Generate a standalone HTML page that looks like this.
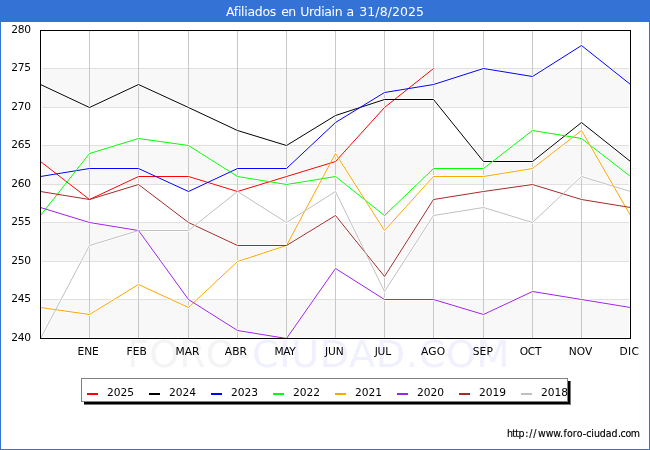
<!DOCTYPE html>
<html lang="es"><head><meta charset="utf-8"><title>Afiliados en Urdiain a 31/8/2025</title>
<style>html,body{margin:0;padding:0;background:#fff;overflow:hidden}svg text{white-space:pre}</style></head>
<body>
<svg width="650" height="450" viewBox="0 0 650 450" style="display:block">
<rect x="0" y="0" width="650" height="450" fill="#ffffff"/>
<rect x="0" y="0" width="650" height="22" fill="#3572d6"/>
<rect x="0" y="0" width="1" height="450" fill="#3572d6"/>
<rect x="649" y="0" width="1" height="450" fill="#3572d6"/>
<rect x="0" y="449" width="650" height="1" fill="#3572d6"/>
<text x="127.2" y="367" font-family="'DejaVu Sans','Liberation Sans',sans-serif" font-size="38" fill="#f4f4f4" textLength="123.2" lengthAdjust="spacing">FORO-</text>
<text x="251.9" y="367" font-family="'DejaVu Sans','Liberation Sans',sans-serif" font-size="38" fill="#f0f0ff" textLength="257.5" lengthAdjust="spacing">CIUDAD.COM</text>
<rect x="42" y="68" width="587" height="39" fill="#f8f8f8"/>
<rect x="42" y="145" width="587" height="39" fill="#f8f8f8"/>
<rect x="42" y="222" width="587" height="39" fill="#f8f8f8"/>
<rect x="42" y="299" width="587" height="38" fill="#f8f8f8"/>
<rect x="42" y="68" width="587" height="1" fill="#e0e0e0"/>
<rect x="42" y="107" width="587" height="1" fill="#e0e0e0"/>
<rect x="42" y="145" width="587" height="1" fill="#e0e0e0"/>
<rect x="42" y="184" width="587" height="1" fill="#e0e0e0"/>
<rect x="42" y="222" width="587" height="1" fill="#e0e0e0"/>
<rect x="42" y="261" width="587" height="1" fill="#e0e0e0"/>
<rect x="42" y="299" width="587" height="1" fill="#e0e0e0"/>
<rect x="89" y="31" width="1" height="307" fill="#c8c8c8"/>
<rect x="138" y="31" width="1" height="307" fill="#c8c8c8"/>
<rect x="188" y="31" width="1" height="307" fill="#c8c8c8"/>
<rect x="237" y="31" width="1" height="307" fill="#c8c8c8"/>
<rect x="286" y="31" width="1" height="307" fill="#c8c8c8"/>
<rect x="335" y="31" width="1" height="307" fill="#c8c8c8"/>
<rect x="384" y="31" width="1" height="307" fill="#c8c8c8"/>
<rect x="433" y="31" width="1" height="307" fill="#c8c8c8"/>
<rect x="483" y="31" width="1" height="307" fill="#c8c8c8"/>
<rect x="532" y="31" width="1" height="307" fill="#c8c8c8"/>
<rect x="581" y="31" width="1" height="307" fill="#c8c8c8"/>
<g fill="none" stroke="#fff" stroke-opacity="0.8" stroke-width="2.8" stroke-linejoin="round">
<polyline points="40.5,161.5 89.5,199.5 138.5,176.5 188.5,176.5 237.5,191.5 286.5,176.5 335.5,161.5 384.5,107.5 433.5,68.5"/>
<polyline points="40.5,84.5 89.5,107.5 138.5,84.5 188.5,107.5 237.5,130.5 286.5,145.5 335.5,115.5 384.5,99.5 433.5,99.5 483.5,161.5 532.5,161.5 581.5,122.5 630.5,161.5"/>
<polyline points="40.5,176.5 89.5,168.5 138.5,168.5 188.5,191.5 237.5,168.5 286.5,168.5 335.5,122.5 384.5,92.5 433.5,84.5 483.5,68.5 532.5,76.5 581.5,45.5 630.5,84.5"/>
<polyline points="40.5,215.5 89.5,153.5 138.5,138.5 188.5,145.5 237.5,176.5 286.5,184.5 335.5,176.5 384.5,215.5 433.5,168.5 483.5,168.5 532.5,130.5 581.5,138.5 630.5,176.5"/>
<polyline points="40.5,307.5 89.5,314.5 138.5,284.5 188.5,307.5 237.5,261.5 286.5,245.5 335.5,153.5 384.5,230.5 433.5,176.5 483.5,176.5 532.5,168.5 581.5,130.5 630.5,215.5"/>
<polyline points="40.5,207.5 89.5,222.5 138.5,230.5 188.5,299.5 237.5,330.5 286.5,338.5 335.5,268.5 384.5,299.5 433.5,299.5 483.5,314.5 532.5,291.5 581.5,299.5 630.5,307.5"/>
<polyline points="40.5,191.5 89.5,199.5 138.5,184.5 188.5,222.5 237.5,245.5 286.5,245.5 335.5,215.5 384.5,276.5 433.5,199.5 483.5,191.5 532.5,184.5 581.5,199.5 630.5,207.5"/>
<polyline points="40.5,338.5 89.5,245.5 138.5,230.5 188.5,230.5 237.5,191.5 286.5,222.5 335.5,191.5 384.5,291.5 433.5,215.5 483.5,207.5 532.5,222.5 581.5,176.5 630.5,191.5"/>
</g>
<g fill="none" stroke-width="1" stroke-linejoin="round">
<polyline points="40.5,161.5 89.5,199.5 138.5,176.5 188.5,176.5 237.5,191.5 286.5,176.5 335.5,161.5 384.5,107.5 433.5,68.5" stroke="#ff0000"/>
<polyline points="40.5,84.5 89.5,107.5 138.5,84.5 188.5,107.5 237.5,130.5 286.5,145.5 335.5,115.5 384.5,99.5 433.5,99.5 483.5,161.5 532.5,161.5 581.5,122.5 630.5,161.5" stroke="#000000"/>
<polyline points="40.5,176.5 89.5,168.5 138.5,168.5 188.5,191.5 237.5,168.5 286.5,168.5 335.5,122.5 384.5,92.5 433.5,84.5 483.5,68.5 532.5,76.5 581.5,45.5 630.5,84.5" stroke="#0000ff"/>
<polyline points="40.5,215.5 89.5,153.5 138.5,138.5 188.5,145.5 237.5,176.5 286.5,184.5 335.5,176.5 384.5,215.5 433.5,168.5 483.5,168.5 532.5,130.5 581.5,138.5 630.5,176.5" stroke="#00ff00"/>
<polyline points="40.5,307.5 89.5,314.5 138.5,284.5 188.5,307.5 237.5,261.5 286.5,245.5 335.5,153.5 384.5,230.5 433.5,176.5 483.5,176.5 532.5,168.5 581.5,130.5 630.5,215.5" stroke="#ffa500"/>
<polyline points="40.5,207.5 89.5,222.5 138.5,230.5 188.5,299.5 237.5,330.5 286.5,338.5 335.5,268.5 384.5,299.5 433.5,299.5 483.5,314.5 532.5,291.5 581.5,299.5 630.5,307.5" stroke="#a020f0"/>
<polyline points="40.5,191.5 89.5,199.5 138.5,184.5 188.5,222.5 237.5,245.5 286.5,245.5 335.5,215.5 384.5,276.5 433.5,199.5 483.5,191.5 532.5,184.5 581.5,199.5 630.5,207.5" stroke="#a52a2a"/>
<polyline points="40.5,338.5 89.5,245.5 138.5,230.5 188.5,230.5 237.5,191.5 286.5,222.5 335.5,191.5 384.5,291.5 433.5,215.5 483.5,207.5 532.5,222.5 581.5,176.5 630.5,191.5" stroke="#c0c0c0"/>
</g>
<rect x="40.5" y="30.5" width="590" height="308" fill="none" stroke="#000" stroke-width="1" shape-rendering="crispEdges"/>
<text x="11.25" y="33" font-family="'DejaVu Sans','Liberation Sans',sans-serif" font-size="10.67" fill="#000" letter-spacing="-0.23">280</text>
<text x="11.25" y="71" font-family="'DejaVu Sans','Liberation Sans',sans-serif" font-size="10.67" fill="#000" letter-spacing="-0.23">275</text>
<text x="11.25" y="110" font-family="'DejaVu Sans','Liberation Sans',sans-serif" font-size="10.67" fill="#000" letter-spacing="-0.23">270</text>
<text x="11.25" y="148" font-family="'DejaVu Sans','Liberation Sans',sans-serif" font-size="10.67" fill="#000" letter-spacing="-0.23">265</text>
<text x="11.25" y="187" font-family="'DejaVu Sans','Liberation Sans',sans-serif" font-size="10.67" fill="#000" letter-spacing="-0.23">260</text>
<text x="11.25" y="225" font-family="'DejaVu Sans','Liberation Sans',sans-serif" font-size="10.67" fill="#000" letter-spacing="-0.23">255</text>
<text x="11.25" y="264" font-family="'DejaVu Sans','Liberation Sans',sans-serif" font-size="10.67" fill="#000" letter-spacing="-0.23">250</text>
<text x="11.25" y="302" font-family="'DejaVu Sans','Liberation Sans',sans-serif" font-size="10.67" fill="#000" letter-spacing="-0.23">245</text>
<text x="11.25" y="341" font-family="'DejaVu Sans','Liberation Sans',sans-serif" font-size="10.67" fill="#000" letter-spacing="-0.23">240</text>
<text x="77.50" y="354.8" font-family="'DejaVu Sans','Liberation Sans',sans-serif" font-size="10.67" fill="#000" letter-spacing="-0.08">ENE</text>
<text x="126.60" y="354.8" font-family="'DejaVu Sans','Liberation Sans',sans-serif" font-size="10.67" fill="#000" letter-spacing="0.06">FEB</text>
<text x="175.50" y="354.8" font-family="'DejaVu Sans','Liberation Sans',sans-serif" font-size="10.67" fill="#000" letter-spacing="-0.05">MAR</text>
<text x="224.78" y="354.8" font-family="'DejaVu Sans','Liberation Sans',sans-serif" font-size="10.67" fill="#000" letter-spacing="0.10">ABR</text>
<text x="274.50" y="354.8" font-family="'DejaVu Sans','Liberation Sans',sans-serif" font-size="10.67" fill="#000" letter-spacing="-0.41">MAY</text>
<text x="325.10" y="354.8" font-family="'DejaVu Sans','Liberation Sans',sans-serif" font-size="10.67" fill="#000" letter-spacing="-0.19">JUN</text>
<text x="374.70" y="354.8" font-family="'DejaVu Sans','Liberation Sans',sans-serif" font-size="10.67" fill="#000" letter-spacing="-0.24">JUL</text>
<text x="420.98" y="354.8" font-family="'DejaVu Sans','Liberation Sans',sans-serif" font-size="10.67" fill="#000" letter-spacing="0.25">AGO</text>
<text x="472.75" y="354.8" font-family="'DejaVu Sans','Liberation Sans',sans-serif" font-size="10.67" fill="#000" letter-spacing="0.11">SEP</text>
<text x="519.67" y="354.8" font-family="'DejaVu Sans','Liberation Sans',sans-serif" font-size="10.67" fill="#000" letter-spacing="-0.27">OCT</text>
<text x="568.70" y="354.8" font-family="'DejaVu Sans','Liberation Sans',sans-serif" font-size="10.67" fill="#000" letter-spacing="0.11">NOV</text>
<text x="619.50" y="354.8" font-family="'DejaVu Sans','Liberation Sans',sans-serif" font-size="10.67" fill="#000" letter-spacing="0.38">DIC</text>
<text x="226 233.8 237.89 241.08 244.25 247.42 254.78 262.41 269.77 275.98 281.15 288.34 295.77 300.2 309 313.56 321.15 324.26 331.58 334.7 342.29 346.6 354.27 359.3 367.33 375.36 379.64 387.67 391.97 400 408.03 416.07" y="16.1" font-family="'DejaVu Sans','Liberation Sans',sans-serif" font-size="12.5" fill="#fff">Afiliados en Urdiain a 31/8/2025</text>
<rect x="84" y="381" width="487" height="24" fill="#777"/>
<rect x="84" y="381" width="486" height="23" fill="#000"/>
<rect x="81.5" y="378.5" width="486" height="23" fill="#fff" stroke="#808080" stroke-width="1" shape-rendering="crispEdges"/>
<rect x="87" y="393" width="11" height="2" fill="#ff0000"/>
<text x="107" y="396" font-family="'DejaVu Sans','Liberation Sans',sans-serif" font-size="10.67" fill="#000">2025</text>
<rect x="149" y="393" width="11" height="2" fill="#000000"/>
<text x="169" y="396" font-family="'DejaVu Sans','Liberation Sans',sans-serif" font-size="10.67" fill="#000">2024</text>
<rect x="211" y="393" width="11" height="2" fill="#0000ff"/>
<text x="231" y="396" font-family="'DejaVu Sans','Liberation Sans',sans-serif" font-size="10.67" fill="#000">2023</text>
<rect x="273" y="393" width="11" height="2" fill="#00ff00"/>
<text x="293" y="396" font-family="'DejaVu Sans','Liberation Sans',sans-serif" font-size="10.67" fill="#000">2022</text>
<rect x="335" y="393" width="11" height="2" fill="#ffa500"/>
<text x="355" y="396" font-family="'DejaVu Sans','Liberation Sans',sans-serif" font-size="10.67" fill="#000">2021</text>
<rect x="397" y="393" width="11" height="2" fill="#a020f0"/>
<text x="417" y="396" font-family="'DejaVu Sans','Liberation Sans',sans-serif" font-size="10.67" fill="#000">2020</text>
<rect x="459" y="393" width="11" height="2" fill="#a52a2a"/>
<text x="479" y="396" font-family="'DejaVu Sans','Liberation Sans',sans-serif" font-size="10.67" fill="#000">2019</text>
<rect x="521" y="393" width="11" height="2" fill="#c0c0c0"/>
<text x="541" y="396" font-family="'DejaVu Sans','Liberation Sans',sans-serif" font-size="10.67" fill="#000">2018</text>
<text x="506.93 512.27 515.35 518.43 525.17 529.15 533.15 538.12 545.71 553.32 559.96 563.55 566.97 572.86 576.63 582.71 586.2 591.34 593.9 599.86 605.79 611.54 618 620.59 625.41 630.8" y="436.9" font-family="'DejaVu Sans Condensed','DejaVu Sans','Liberation Sans',sans-serif" font-size="10.5" fill="#000" stroke="#000" stroke-width="0.15">http://www.foro-ciudad.com</text>
</svg>
</body></html>
